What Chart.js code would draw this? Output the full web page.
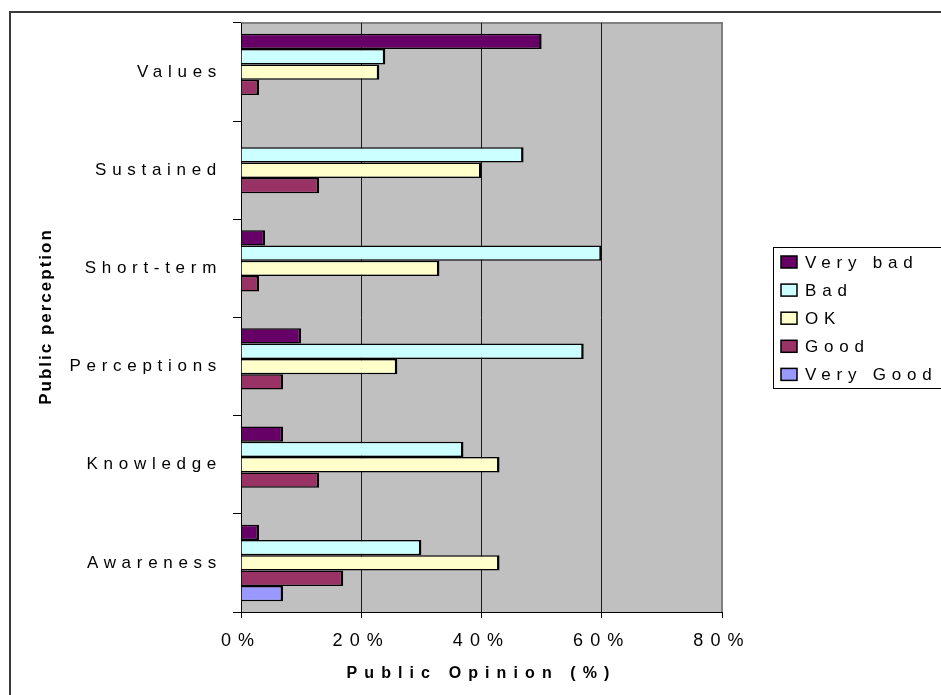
<!DOCTYPE html>
<html>
<head>
<meta charset="utf-8">
<script src="https://cdn.jsdelivr.net/npm/chart.js@4/dist/chart.umd.min.js"></script>
<style>
  html, body { margin: 0; padding: 0; background: #fff; }
  canvas { display: block; }
</style>
</head>
<body>
<canvas id="c" width="941" height="695"></canvas>
<script>
// Survey categories, top to bottom
const categories = ['Values', 'Sustained', 'Short-term', 'Perceptions', 'Knowledge', 'Awareness'];

// Share of answers per rating (%)
const veryBad  = [50, 0, 4, 10, 7, 3];
const bad      = [24, 47, 60, 57, 37, 30];
const ok       = [23, 40, 33, 26, 43, 43];
const good     = [3, 13, 3, 7, 13, 17];
const veryGood = [0, 0, 0, 0, 0, 7];

const seriesNames = ['Very bad', 'Bad', 'OK', 'Good', 'Very Good'];
const seriesColors = ['#660066', '#CCFFFF', '#FFFFCC', '#993366', '#9999FF'];
const xTicks = [0, 20, 40, 60, 80];

const FONT = '"Liberation Sans", Arial, sans-serif';

// Plot background, frame, legend box and the vertical axis title
const frame = {
  id: 'frame',
  beforeDraw(chart) {
    const { ctx, chartArea: a } = chart;
    ctx.save();
    ctx.fillStyle = '#C0C0C0';
    ctx.fillRect(a.left, a.top, a.right - a.left, a.bottom - a.top);
    ctx.strokeStyle = '#808080';
    ctx.lineWidth = 2;
    ctx.beginPath();
    ctx.moveTo(a.left, a.top);
    ctx.lineTo(a.right, a.top);
    ctx.lineTo(a.right, a.bottom);
    ctx.stroke();
    ctx.restore();
    // wide tracking for the horizontal axis text
    ctx.letterSpacing = '7.1px';
  },
  afterDatasetsDraw(chart) {
    // category labels are drawn after the bars
    chart.ctx.letterSpacing = '5.7px';
  },
  afterDraw(chart) {
    const { ctx, chartArea: a } = chart;
    ctx.save();
    ctx.letterSpacing = '0px';

    // outer chart border
    ctx.strokeStyle = '#3a3a3a';
    ctx.lineWidth = 2;
    ctx.strokeRect(10, 12, 980, 740);

    // legend
    const lx = 773, ly = 247, rowH = 28.1;
    ctx.strokeStyle = '#000';
    ctx.lineWidth = 1;
    ctx.strokeRect(lx + 0.5, ly + 0.5, 220, 141);
    ctx.font = '17px ' + FONT;
    ctx.textAlign = 'left';
    ctx.textBaseline = 'middle';
    chart.data.datasets.forEach((ds, i) => {
      const cy = ly + 15 + i * rowH;
      ctx.fillStyle = ds.backgroundColor;
      ctx.fillRect(781, cy - 6, 16, 12);
      ctx.strokeStyle = '#000';
      ctx.lineWidth = 1.5;
      ctx.strokeRect(781, cy - 6, 16, 12);
      ctx.fillStyle = '#000';
      ctx.letterSpacing = '5.8px';
      ctx.fillText(ds.label, 805, cy + 1);
    });

    // vertical axis title
    ctx.translate(46, (a.top + a.bottom) / 2);
    ctx.rotate(-Math.PI / 2);
    ctx.font = 'bold 17px ' + FONT;
    ctx.letterSpacing = '2px';
    ctx.textAlign = 'center';
    ctx.textBaseline = 'middle';
    ctx.fillStyle = '#000';
    ctx.fillText('Public perception', 1, 0);
    ctx.restore();
  }
};

const seriesData = [veryBad, bad, ok, good, veryGood];

new Chart(document.getElementById('c'), {
  type: 'bar',
  data: {
    labels: categories,
    datasets: seriesNames.map((name, i) => ({
      label: name,
      data: seriesData[i],
      backgroundColor: seriesColors[i]
    }))
  },
  plugins: [frame],
  options: {
    responsive: false,
    animation: false,
    indexAxis: 'y',
    layout: { padding: { top: 23, right: 219, left: 0, bottom: 0 } },
    plugins: {
      legend: { display: false },
      tooltip: { enabled: false }
    },
    datasets: {
      bar: {
        categoryPercentage: 0.78,
        barPercentage: 1,
        borderColor: '#000',
        borderWidth: { top: 1.5, bottom: 1.5, right: 2.5, left: 1 },
        borderSkipped: 'start'
      }
    },
    scales: {
      x: {
        type: 'linear',
        min: 0,
        max: 80,
        afterBuildTicks: s => { s.ticks = xTicks.map(v => ({ value: v })); },
        afterFit: s => { s.height = 83; },
        ticks: {
          callback: v => v + '%',
          color: '#000',
          font: { size: 18, family: FONT },
          padding: 12,
          maxRotation: 0,
          autoSkip: false,
          z: 0
        },
        grid: {
          color: c => (c.tick && (c.tick.value === 0 || c.tick.value === 80)) ? 'rgba(0,0,0,0)' : '#1a1a1a',
          lineWidth: 1,
          tickColor: '#000',
          tickLength: 6,
          tickWidth: 1
        },
        border: { color: '#000', width: 1 },
        title: {
          display: true,
          text: 'Public Opinion (%)',
          color: '#000',
          font: { size: 16, weight: 'bold', family: FONT },
          padding: { top: 0, bottom: 12 }
        }
      },
      y: {
        type: 'category',
        afterFit: s => { s.width = 241; },
        ticks: {
          color: '#000',
          font: { size: 17, family: FONT },
          padding: 11,
          z: 1
        },
        grid: {
          drawOnChartArea: false,
          offset: true,
          tickColor: '#000',
          tickLength: 8,
          tickWidth: 1
        },
        border: { color: '#000', width: 1 }
      }
    }
  }
});
</script>
</body>
</html>
